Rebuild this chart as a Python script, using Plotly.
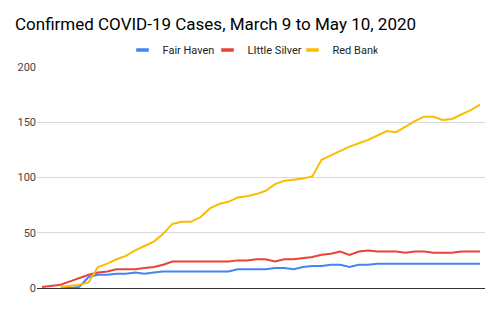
import plotly.graph_objects as go

report_index = list(range(48))

fair_haven = [None, None, 0, 0, 1, 10, 12, 12, 13, 13, 14, 13, 14, 15, 15, 15,
              15, 15, 15, 15, 15, 17, 17, 17, 17, 18, 18, 17, 19, 20, 20, 21,
              21, 19, 21, 21, 22, 22, 22, 22, 22, 22, 22, 22, 22, 22, 22, 22]
little_silver = [1, 2, 3, 6, 9, 12, 14, 15, 17, 17, 17, 18, 19, 21, 24, 24,
                 24, 24, 24, 24, 24, 25, 25, 26, 26, 24, 26, 26, 27, 28, 30, 31,
                 33, 30, 33, 34, 33, 33, 33, 32, 33, 33, 32, 32, 32, 33, 33, 33]
red_bank = [None, None, 1, 2, 3, 5, 19, 22, 26, 29, 34, 38, 42, 49, 58, 60,
            60, 64, 72, 76, 78, 82, 83, 85, 88, 94, 97, 98, 99, 101, 116, 120,
            124, 128, 131, 134, 138, 142, 141, 146, 151, 155, 155, 152, 153, 157, 161, 166]

series = [("Fair Haven", fair_haven, "#4285F4"),
          ("LIttle Silver", little_silver, "#EA4335"),
          ("Red Bank", red_bank, "#FBBC04")]

fig = go.Figure()
for name, vals, col in series:
    fig.add_trace(go.Scatter(x=report_index, y=vals, mode="lines", name=name,
                             line=dict(color=col, width=2), showlegend=False))
for name, vals, col in series:
    fig.add_trace(go.Scatter(x=[None], y=[None], mode="markers", name=name,
                             marker=dict(symbol="line-ew", size=9,
                                         line=dict(color=col, width=3.5))))

fig.update_layout(
    width=500, height=309,
    margin=dict(l=37, r=15, t=67, b=21, autoexpand=False),
    paper_bgcolor="white", plot_bgcolor="white",
    font=dict(family="Roboto, Arial, sans-serif", color="#444"),
    title=dict(text="Confirmed COVID-19 Cases, March 9 to May 10, 2020",
               font=dict(size=17, color="#000"),
               x=15/500, xref="container", xanchor="left",
               y=1-24/309, yref="container", yanchor="middle"),
    legend=dict(orientation="h", x=0.5, xref="container", xanchor="center",
                y=1-50/309, yref="container", yanchor="middle",
                font=dict(size=11, color="#222"), itemwidth=30,
                entrywidth=40, entrywidthmode="pixels"),
    xaxis=dict(range=[-0.54, 47.54], showticklabels=False, showgrid=False,
               zeroline=False, ticks=""),
    yaxis=dict(range=[0, 200], tickvals=[0, 50, 100, 150, 200],
               gridcolor="#d9d9d9", zeroline=True, zerolinecolor="#333",
               zerolinewidth=1, ticks="", tickfont=dict(size=11, color="#444")),
)

fig.write_html("out.html")
